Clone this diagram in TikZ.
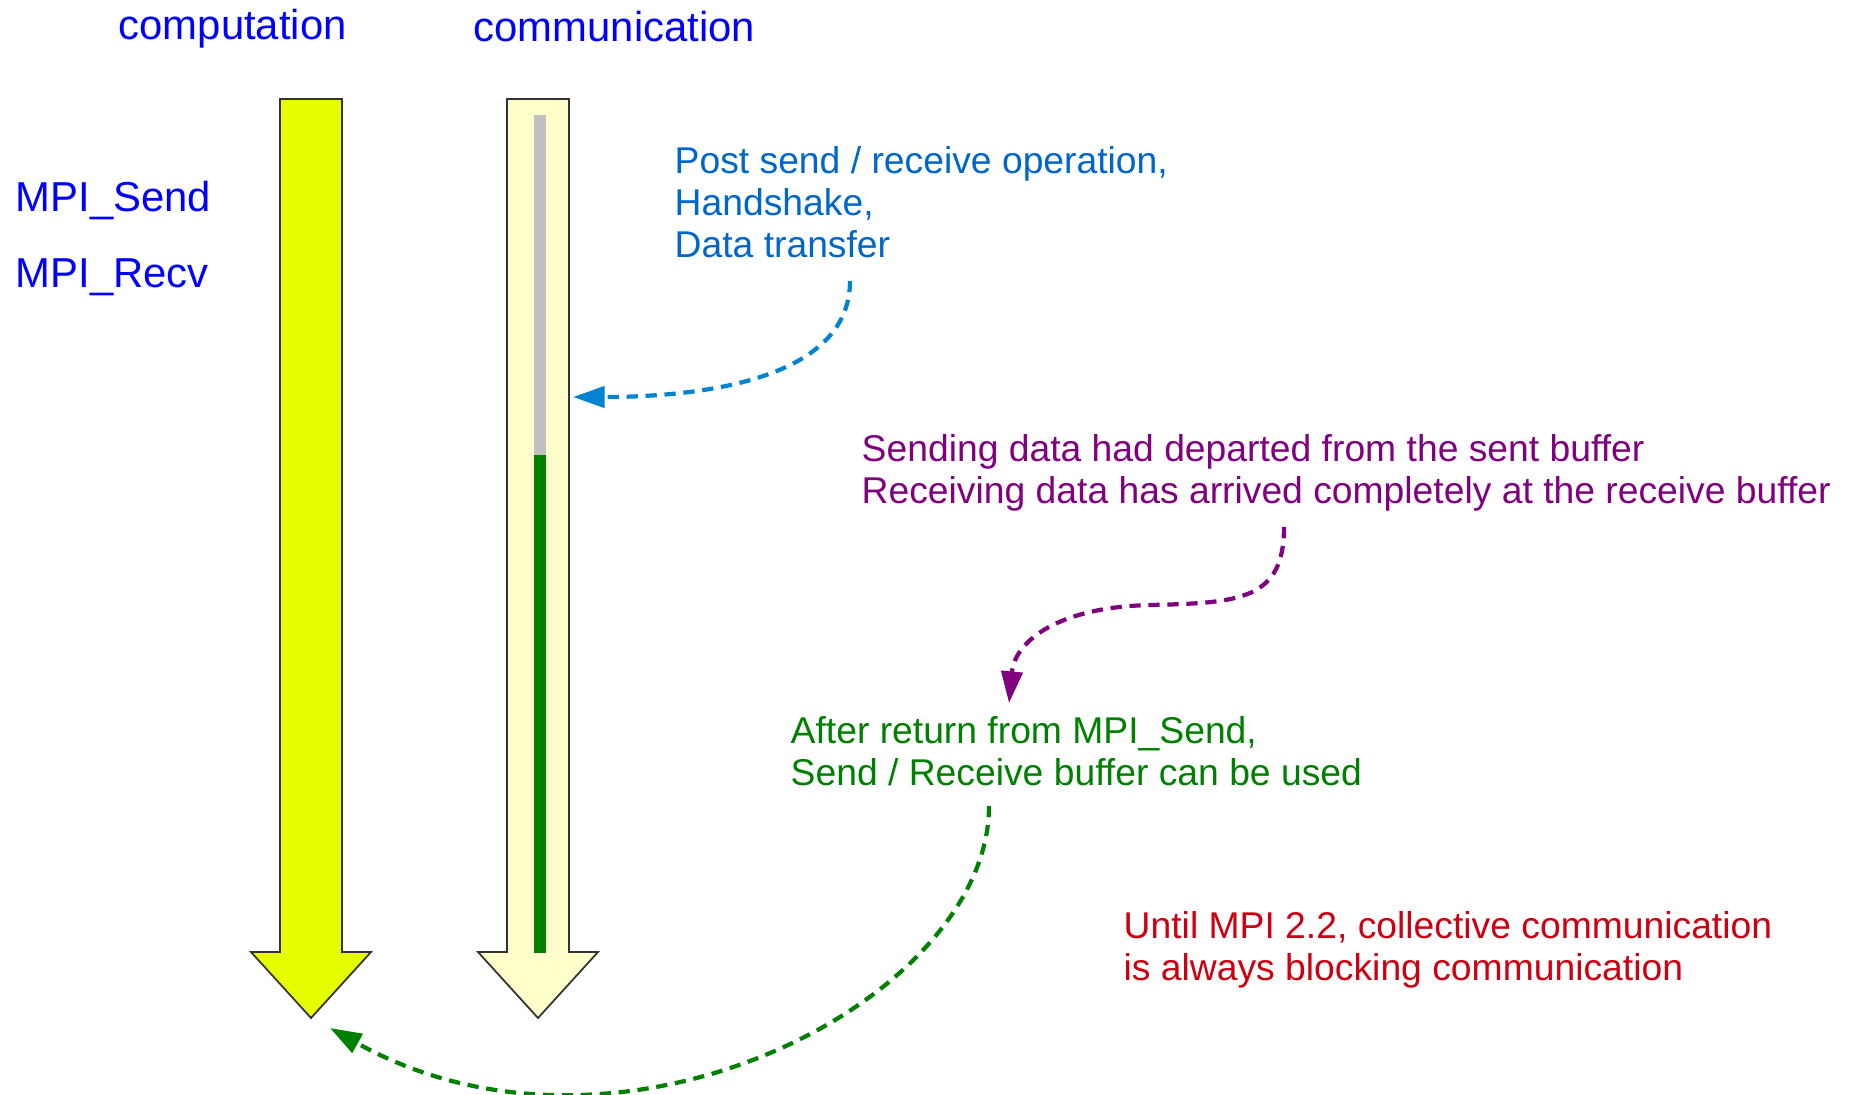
\documentclass[tikz,border=0pt]{standalone}
\usepackage{fontspec}
\setmainfont{Liberation Sans}
\usetikzlibrary{arrows.meta}

\definecolor{titleblue}{HTML}{0000FF}
\definecolor{noteblue}{HTML}{0066CC}
\definecolor{linkblue}{HTML}{0084D1}
\definecolor{notepurple}{HTML}{800080}
\definecolor{notegreen}{HTML}{008000}
\definecolor{notered}{HTML}{CC0011}
\definecolor{compyellow}{HTML}{E6FF00}
\definecolor{commyellow}{HTML}{FFFFCC}
\definecolor{waitgray}{HTML}{C0C0C0}

\begin{document}
\begin{tikzpicture}[x=0.01cm,y=-0.01cm,
  head node/.style={anchor=base west,inner sep=0pt,text=titleblue,font=\fontsize{11.9}{14}\selectfont},
  note node/.style={anchor=base west,inner sep=0pt,align=left,font=\fontsize{10.6}{11.9}\selectfont},
  link/.style={dash pattern=on 3.2pt off 2.2pt,line width=1.2pt,-{Triangle[length=9pt,width=6pt]}},
  block arrow/.style={draw=black!80,line width=0.5pt}]
  \useasboundingbox (0,0) rectangle (1852,1094);

  % time lines
  \foreach \x/\col in {311/compyellow,538/commyellow}
    \draw[block arrow,fill=\col] (\x-31,99) -- (\x+31,99) -- (\x+31,952) -- (\x+60,952)
      -- (\x,1018) -- (\x-60,952) -- (\x-31,952) -- cycle;
  \fill[waitgray] (534,115) rectangle (546,455);
  \fill[notegreen] (534,455) rectangle (546,953);

  % labels
  \node[head node] (comp) at (118,40) {computation};
  \node[head node] (comm) at (473,42) {communication};
  \node[head node] (send) at (15,212) {MPI\_Send};
  \node[head node] (recv) at (15,287) {MPI\_Recv};

  \node[note node,text=noteblue] (post) at (674,257)
    {Post send / receive operation,\\Handshake,\\Data transfer};
  \node[note node,text=notepurple] (depart) at (861,503)
    {Sending data had departed from the sent buffer\\Receiving data has arrived completely at the receive buffer};
  \node[note node,text=notegreen] (after) at (790,785)
    {After return from MPI\_Send,\\Send / Receive buffer can be used};
  \node[note node,text=notered] (until) at (1123,980)
    {Until MPI 2.2, collective communication\\is always blocking communication};

  \coordinate (post start) at (850,281);
  \coordinate (post end) at (573,397);
  \coordinate (depart start) at (1284,527);
  \coordinate (depart end) at (1009,703);
  \coordinate (after start) at (989,806);
  \coordinate (after end) at (330,1028);

  % connectors
  \draw[link,linkblue] (post start) .. controls (850,380) and (700,397) .. (post end);
  \draw[link,notepurple] (depart start) .. controls (1284,600) and (1240,603) .. (1150,605)
    .. controls (1060,607) and (1015,640) .. (depart end);
  \draw[link,notegreen] (after start) .. controls (989,1000) and (620,1190) .. (after end);

\end{tikzpicture}
\end{document}
